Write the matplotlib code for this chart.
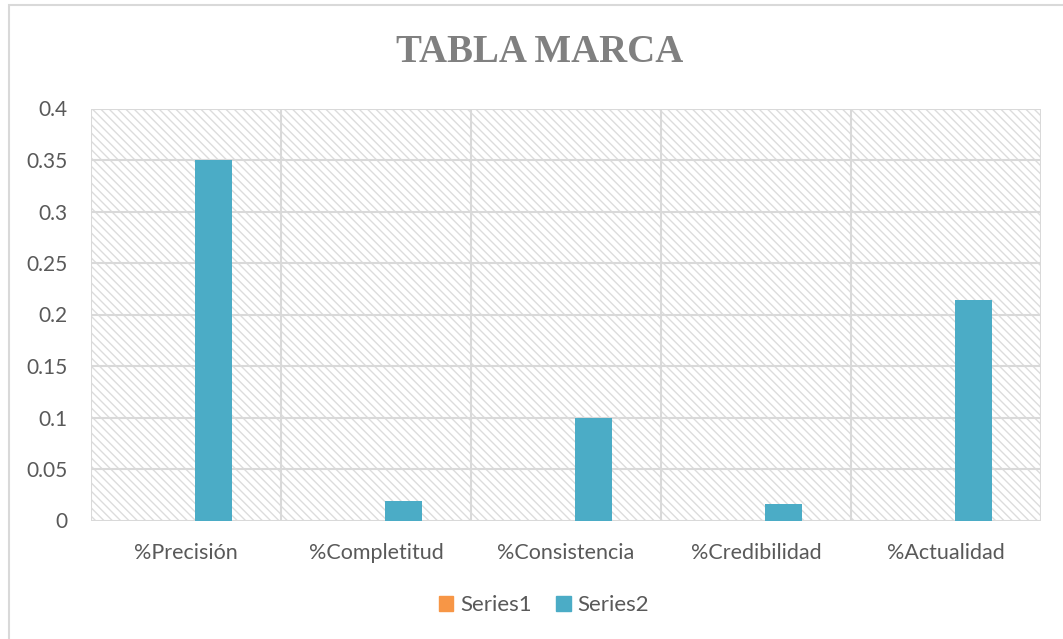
import matplotlib
matplotlib.use("Agg")
import matplotlib.pyplot as plt
import matplotlib.patches as mpatches
import numpy as np

categories = ["%Precisión", "%Completitud", "%Consistencia", "%Credibilidad", "%Actualidad"]
series1 = [0, 0, 0, 0, 0]
series2 = [0.35, 0.0185, 0.1, 0.0158, 0.214]
yticks = [0, 0.05, 0.1, 0.15, 0.2, 0.25, 0.3, 0.35, 0.4]
ytick_labels = ["0", "0.05", "0.1", "0.15", "0.2", "0.25", "0.3", "0.35", "0.4"]

W, H = 1063, 639
fig = plt.figure(figsize=(W / 100, H / 100), dpi=100)
fig.patch.set_facecolor("white")
plt.rcParams["hatch.linewidth"] = 1.0
plt.rcParams["hatch.color"] = "#dcdcdc"

# outer chart frame
fig.add_artist(mpatches.Rectangle((9 / W, -0.1), 1.2, 1 - 5 / H + 0.1, transform=fig.transFigure,
                                  fill=False, edgecolor="#d9d9d9", linewidth=1.5))

ax = fig.add_axes([91 / W, 1 - 520.5 / H, (1041 - 91) / W, (520.5 - 108.5) / H])
ax.set_xlim(-0.5, len(categories) - 0.5)
ax.set_ylim(0, 0.4)

# hatched plot background
ax.add_patch(mpatches.Rectangle((0, 0), 1, 1, transform=ax.transAxes, facecolor="white",
                                edgecolor="#dcdcdc", hatch="\\\\\\\\", linewidth=0, zorder=0))

x = np.arange(len(categories))
bw = 0.197
ax.bar(x - 0.055, series1, width=bw, color="#f79646", zorder=3, label="Series1")
ax.bar(x + 0.145, series2, width=bw, color="#4bacc6", zorder=3, label="Series2")

# gridlines
for yv in yticks:
    ax.axhline(yv, color="#d9d9d9", linewidth=1.5, zorder=1)
for xv in np.arange(-0.5, len(categories), 1.0):
    ax.axvline(xv, color="#d9d9d9", linewidth=1.5, zorder=1)

for s in ax.spines.values():
    s.set_visible(False)

font = "Lato"
ax.set_yticks(yticks)
ax.set_yticklabels(ytick_labels, fontsize=15, color="#595959", fontfamily=font)
ax.set_xticks(x)
ax.set_xticklabels(categories, fontsize=15.5, color="#595959", fontfamily=font)
ax.tick_params(axis="both", length=0)
ax.tick_params(axis="y", pad=17)
ax.tick_params(axis="x", pad=16)

fig.text(540 / W, 1 - 52 / H, "TABLA MARCA", ha="center", va="center", fontsize=28,
         fontweight="bold", color="#808080", fontfamily="Liberation Serif")

handles = [mpatches.Patch(color="#f79646", label="Series1"),
           mpatches.Patch(color="#4bacc6", label="Series2")]
fig.legend(handles=handles, loc="center", bbox_to_anchor=(544 / W, 1 - 605 / H), ncol=2,
           frameon=False, prop={"family": font, "size": 16}, labelcolor="#595959",
           handlelength=0.65, handleheight=0.65, handletextpad=0.3, columnspacing=1.1)

fig.savefig("out.png", dpi=100, facecolor="white")
